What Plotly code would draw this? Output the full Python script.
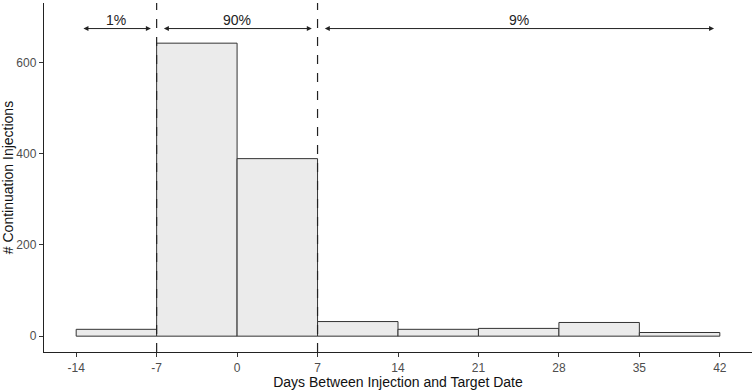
import plotly.graph_objects as go

bin_edges = [-14, -7, 0, 7, 14, 21, 28, 35, 42]
counts = [15, 642, 389, 32, 15, 17, 30, 8]
x_ticks = [-14, -7, 0, 7, 14, 21, 28, 35, 42]
y_ticks = [0, 200, 400, 600]
cutoffs = [-7, 7]
arrow_spans = [(-13.5, -7.5), (-6.5, 6.5), (7.5, 41.5)]
arrow_labels = ["1%", "90%", "9%"]
arrow_y = 674
label_y = 692

centers = [(a + b) / 2 for a, b in zip(bin_edges[:-1], bin_edges[1:])]
widths = [b - a for a, b in zip(bin_edges[:-1], bin_edges[1:])]

fig = go.Figure()
fig.add_trace(go.Bar(
    x=centers, y=counts, width=widths,
    marker=dict(color="#EBEBEB", line=dict(color="#333333", width=1)),
    hoverinfo="skip", showlegend=False,
))

for c in cutoffs:
    fig.add_shape(type="line", xref="x", yref="paper", x0=c, x1=c, y0=0, y1=1,
                  line=dict(color="#222222", width=1.2, dash="dash"))

annotations = []
for (a, b), lab in zip(arrow_spans, arrow_labels):
    annotations.append(dict(
        x=b, y=arrow_y, ax=a, ay=arrow_y, xref="x", yref="y", axref="x", ayref="y",
        text="", showarrow=True, arrowhead=2, arrowside="end+start",
        arrowsize=1, arrowwidth=1, arrowcolor="#222222", standoff=0, startstandoff=0,
    ))
    annotations.append(dict(
        x=(a + b) / 2, y=label_y, xref="x", yref="y", text=lab, showarrow=False,
        font=dict(family="Liberation Sans, Arial", size=14, color="#222222"),
    ))

fig.update_layout(
    width=755, height=390,
    margin=dict(l=44, r=3, t=3, b=38),
    paper_bgcolor="white", plot_bgcolor="white",
    annotations=annotations,
    bargap=0,
    font=dict(family="Liberation Sans, Arial", size=12, color="#4D4D4D"),
    xaxis=dict(
        range=[-16.8, 44.8], tickmode="array", tickvals=x_ticks,
        ticktext=[str(v) for v in x_ticks], automargin=False,
        showgrid=False, zeroline=False, showline=True, linecolor="#222222", linewidth=1.2,
        ticks="outside", ticklen=4, tickcolor="#333333",
        tickfont=dict(size=12, color="#4D4D4D"),
        title=dict(text="Days Between Injection and Target Date",
                   font=dict(size=14, color="#111111"), standoff=2),
    ),
    yaxis=dict(
        range=[-34.7, 730], tickmode="array", tickvals=y_ticks,
        ticktext=[str(v) for v in y_ticks], automargin=False,
        showgrid=False, zeroline=False, showline=True, linecolor="#222222", linewidth=1.2,
        ticks="outside", ticklen=4, tickcolor="#333333",
        tickfont=dict(size=12, color="#4D4D4D"),
        title=dict(text="# Continuation Injections",
                   font=dict(size=14, color="#111111"), standoff=4),
    ),
)

fig.write_html("out.html", config={"displayModeBar": False, "staticPlot": True},
               post_script="document.body.style.margin='0';document.body.style.overflow='hidden';")
